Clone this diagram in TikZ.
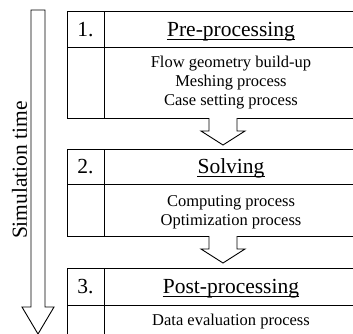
\documentclass[tikz,border=0pt]{standalone}
\usepackage{fontspec}
\setmainfont{Liberation Serif}
\begin{document}
\begin{tikzpicture}[x=1pt,y=-1pt,
  frame/.style={draw=black,line width=0.9pt},
  hollow/.style={draw=black,line width=0.9pt,fill=white,line join=miter},
  numtxt/.style={inner sep=0pt,anchor=base,font=\fontsize{21.5}{24}\selectfont},
  headtxt/.style={inner sep=0pt,anchor=base,font=\fontsize{21.5}{24}\selectfont},
  bodytxt/.style={inner sep=0pt,align=center,font=\fontsize{16.5}{19}\selectfont},
  ul/.style={draw=black,line width=0.8pt}]
\useasboundingbox (0,0) rectangle (353,333);
\clip (0,0) rectangle (353,333);
\fill[white] (0,0) rectangle (353,333);
% big time arrow
\draw[hollow] (31,10) -- (45,10) -- (45,307) -- (54,307) -- (38,334) -- (22,307) -- (31,307) -- cycle;
\node[rotate=90,inner sep=0pt,font=\fontsize{21.5}{24}\selectfont] (st) at (19.5,170) {Simulation time};
% box 1
\draw[frame] (67,11) rectangle (358,118);
\draw[frame] (104,11) -- (104,118);
\draw[frame] (67,47.5) -- (358,47.5);
\node[numtxt] (n1) at (85.5,36.5) {1.};
\node[headtxt] (h1) at (231,36.5) {Pre-processing};
\draw[ul] ([yshift=-2.5pt]h1.base west) -- ([yshift=-2.5pt]h1.base east);
\node[bodytxt] (b1) at (231,83) {Flow geometry build-up\\Meshing process\\Case setting process};
% arrow 1
\draw[hollow] (209,118) -- (209,131) -- (201,131) -- (223,145) -- (245,131) -- (237,131) -- (237,118);
% box 2
\draw[frame] (67,149) rectangle (358,236);
\draw[frame] (104,149) -- (104,236);
\draw[frame] (67,184) -- (358,184);
\node[numtxt] (n2) at (85.5,173.5) {2.};
\node[headtxt] (h2) at (231,173.5) {Solving};
\draw[ul] ([yshift=-2.5pt]h2.base west) -- ([yshift=-2.5pt]h2.base east);
\node[bodytxt] (b2) at (231,212) {Computing process\\Optimization process};
% arrow 2
\draw[hollow] (209,236) -- (209,249) -- (201,249) -- (223,263) -- (245,249) -- (237,249) -- (237,236);
% box 3
\draw[frame] (67,268) rectangle (358,345);
\draw[frame] (104,268) -- (104,345);
\draw[frame] (67,305) -- (358,305);
\node[numtxt] (n3) at (85.5,293.5) {3.};
\node[headtxt] (h3) at (231,293.5) {Post-processing};
\draw[ul] ([yshift=-2.5pt]h3.base west) -- ([yshift=-2.5pt]h3.base east);
\node[bodytxt] (b3) at (231,322) {Data evaluation process};
\end{tikzpicture}
\end{document}
